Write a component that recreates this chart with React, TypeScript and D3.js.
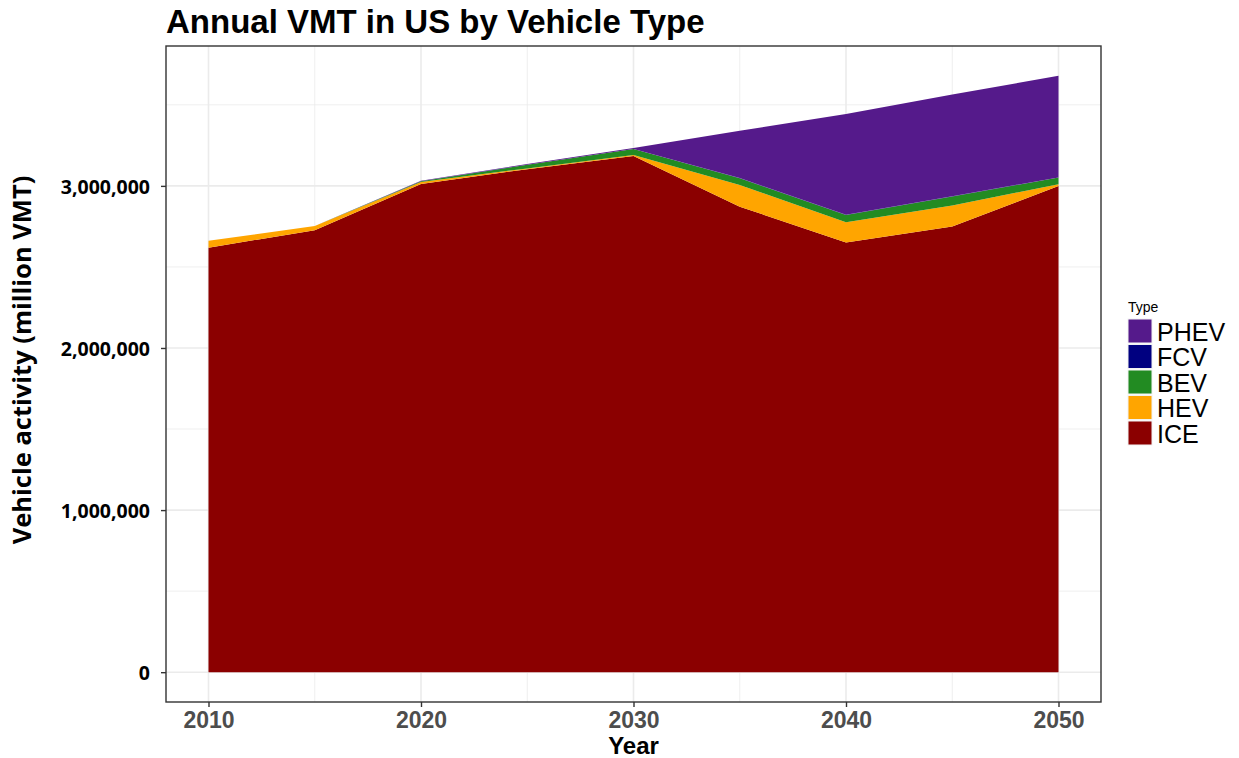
import * as d3 from "d3";
import { useEffect, useRef } from "react";

// annual VMT, million miles
const years = [2010, 2015, 2020, 2025, 2030, 2035, 2040, 2045, 2050];
const ice = [2619000, 2727000, 3012000, 3103000, 3185000, 2872000, 2650000, 2749000, 3000000];
const hev = [42000, 26000, 12000, 5000, 6000, 134000, 126000, 130000, 10000];
const bev = [0, 0, 4000, 22000, 36000, 41000, 45000, 56000, 41000];
const fcv = [0, 0, 0, 1000, 1000, 1000, 1000, 1000, 1000];
const phev = [0, 0, 3000, 4000, 5000, 292000, 621000, 627000, 627000];

const types = ["ICE", "HEV", "BEV", "FCV", "PHEV"];
const colors = ["#8B0000", "#FFA500", "#228B22", "#000080", "#551A8B"];
const xTicks = [2010, 2020, 2030, 2040, 2050];
const yTicks = [0, 1000000, 2000000, 3000000];

export default function App() {
  const svgRef = useRef<SVGSVGElement>(null);
  const width = 1239;
  const height = 758;
  const margin = { top: 46, right: 138, bottom: 56, left: 166 };

  useEffect(() => {
    const svg = d3.select(svgRef.current);
    svg.selectAll("*").remove();
    const innerW = width - margin.left - margin.right;
    const innerH = height - margin.top - margin.bottom;

    const series = [ice, hev, bev, fcv, phev];
    const rows = years.map((yr, i) => {
      const r: any = { year: yr };
      types.forEach((t, k) => (r[t] = series[k][i]));
      return r;
    });
    const stacked = d3.stack().keys(types)(rows);

    // ggplot-style 5% expansion on both axes
    const ext = d3.max(stacked[stacked.length - 1], (d) => d[1])!;
    const x = d3
      .scaleLinear()
      .domain([2010 - 2, 2050 + 2])
      .range([0, innerW]);
    const y = d3
      .scaleLinear()
      .domain([-ext * 0.05, ext * 1.05])
      .range([innerH, 0]);

    const g = svg.append("g").attr("transform", `translate(${margin.left},${margin.top})`);

    // grid
    const minorX = [2015, 2025, 2035, 2045];
    const minorY = [500000, 1500000, 2500000, 3500000];
    g.selectAll("line.mnx").data(minorX).enter().append("line")
      .attr("x1", (d) => x(d)).attr("x2", (d) => x(d)).attr("y1", 0).attr("y2", innerH)
      .attr("stroke", "#ebebeb").attr("stroke-width", 0.8);
    g.selectAll("line.mny").data(minorY).enter().append("line")
      .attr("x1", 0).attr("x2", innerW).attr("y1", (d) => y(d)).attr("y2", (d) => y(d))
      .attr("stroke", "#ebebeb").attr("stroke-width", 0.8);
    g.selectAll("line.mjx").data(xTicks).enter().append("line")
      .attr("x1", (d) => x(d)).attr("x2", (d) => x(d)).attr("y1", 0).attr("y2", innerH)
      .attr("stroke", "#ebebeb").attr("stroke-width", 1.6);
    g.selectAll("line.mjy").data(yTicks).enter().append("line")
      .attr("x1", 0).attr("x2", innerW).attr("y1", (d) => y(d)).attr("y2", (d) => y(d))
      .attr("stroke", "#ebebeb").attr("stroke-width", 1.6);

    const area = d3
      .area<any>()
      .x((d) => x(d.data.year))
      .y0((d) => y(d[0]))
      .y1((d) => y(d[1]));

    g.selectAll("path.layer").data(stacked).enter().append("path")
      .attr("class", "layer")
      .attr("d", area as any)
      .attr("fill", (_d, i) => colors[i]);

    // border
    g.append("rect")
      .attr("width", innerW).attr("height", innerH)
      .attr("fill", "none").attr("stroke", "#333333").attr("stroke-width", 1.4);

    // axes
    const gx = g.append("g").attr("transform", `translate(0,${innerH})`)
      .call(d3.axisBottom(x).tickValues(xTicks).tickFormat(d3.format("d")).tickSize(5).tickPadding(5));
    gx.select(".domain").remove();
    gx.selectAll("line").attr("stroke", "#333333").attr("stroke-width", 1.4);
    gx.selectAll("text")
      .attr("fill", "#4d4d4d")
      .style("font-family", "'Liberation Sans', Arial, sans-serif")
      .style("font-weight", "700")
      .style("font-size", "23px");

    const gy = g.append("g")
      .call(d3.axisLeft(y).tickValues(yTicks).tickFormat(d3.format(",")).tickSize(5).tickPadding(11));
    gy.select(".domain").remove();
    gy.selectAll("line").attr("stroke", "#333333").attr("stroke-width", 1.4);
    gy.selectAll("text")
      .attr("fill", "#000")
      .attr("dy", "0.4em")
      .style("font-family", "'Open Sans', sans-serif")
      .style("font-weight", "700")
      .style("font-size", "19.5px");

    // titles
    svg.append("text")
      .attr("x", 166).attr("y", 33)
      .attr("font-family", "'Liberation Sans', Arial, sans-serif")
      .attr("font-weight", 700).attr("font-size", 33)
      .text("Annual VMT in US by Vehicle Type");

    svg.append("text")
      .attr("x", margin.left + innerW / 2).attr("y", 754)
      .attr("text-anchor", "middle")
      .attr("font-family", "'Liberation Sans', Arial, sans-serif")
      .attr("font-weight", 700).attr("font-size", 24)
      .text("Year");

    svg.append("text")
      .attr("transform", `translate(31,360) rotate(-90)`)
      .attr("text-anchor", "middle")
      .attr("font-family", "'Open Sans', sans-serif")
      .attr("font-weight", 700).attr("font-size", 25.5)
      .text("Vehicle activity (million VMT)");

    // legend, top entry is the top layer
    const lg = svg.append("g").attr("transform", "translate(1128,0)");
    lg.append("text")
      .attr("x", 0).attr("y", 312)
      .attr("font-family", "'Liberation Sans', Arial, sans-serif")
      .attr("font-size", 14)
      .text("Type");
    const legendTypes = types.slice().reverse();
    const legendColors = colors.slice().reverse();
    const items = lg.selectAll("g.item").data(legendTypes).enter().append("g")
      .attr("transform", (_d, i) => `translate(0,${319 + i * 25.5})`);
    items.append("rect")
      .attr("width", 24).attr("height", 24)
      .attr("fill", (_d, i) => legendColors[i])
      .attr("stroke", "#f2f2f2").attr("stroke-width", 1);
    items.append("text")
      .attr("x", 29).attr("y", 21.5)
      .attr("font-family", "'Liberation Sans', Arial, sans-serif")
      .attr("font-size", 25)
      .text((d) => d);
  }, []);

  return (
    <svg
      ref={svgRef}
      width={width}
      height={height}
      style={{ position: "absolute", left: 0, top: 0, background: "#fff" }}
    />
  );
}
